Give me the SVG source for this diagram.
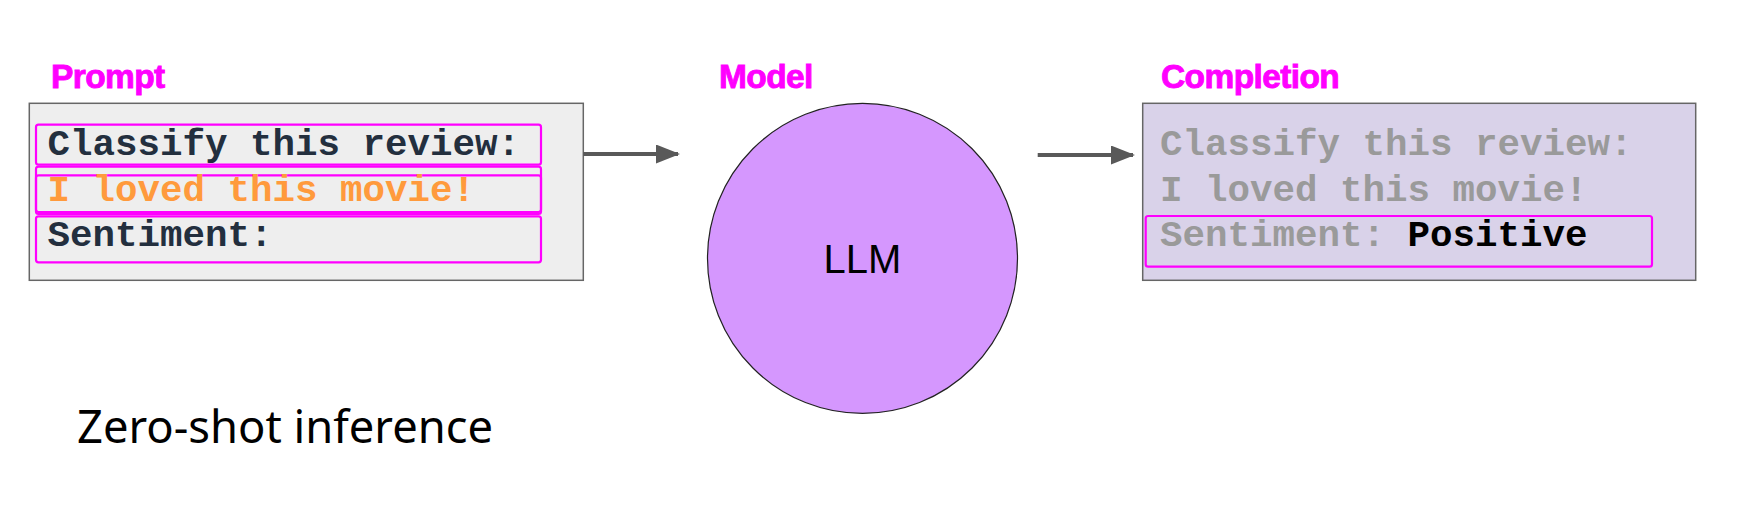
<svg xmlns="http://www.w3.org/2000/svg" width="1745" height="526" viewBox="0 0 1745 526">
<defs>
<style>
.title{font-family:"Liberation Sans",Arial,sans-serif;font-weight:bold;font-size:33.5px;fill:#FF00FF;stroke:#FF00FF;stroke-width:0.9;letter-spacing:-0.6px}
.mono{font-family:"Liberation Mono","Courier New",monospace;font-weight:bold;font-size:37.5px}
.dark{fill:#232F3E}
.orange{fill:#FF9A3C}
.gray{fill:#9A9A9A}
.hl{fill:none;stroke:#FF00FF;stroke-width:2.2}
.box{stroke:#666666;stroke-width:1.5}
.conn{stroke:#595959;stroke-width:4;fill:none}
</style>
<marker id="arr" markerWidth="24" markerHeight="19" refX="22" refY="9.5" orient="auto" markerUnits="userSpaceOnUse">
<path d="M0,0 L24,9.5 L0,19 Z" fill="#595959"/>
</marker>
</defs>
<rect width="1745" height="526" fill="#FFFFFF"/>

<g id="prompt">
<text class="title" x="51" y="88.3">Prompt</text>
<rect class="box" x="29.3" y="103.3" width="554" height="177" fill="#EEEEEE"/>
<rect class="hl" x="36" y="124.7" width="505" height="40" rx="2.5"/>
<rect class="hl" x="36" y="166.7" width="505" height="47.3" rx="2.5"/>
<rect class="hl" x="36" y="175.3" width="505" height="36.7" rx="2.5"/>
<rect class="hl" x="36" y="216.3" width="505" height="46" rx="2.5"/>
<text class="mono dark" x="47.5" y="154.5">Classify this review:</text>
<text class="mono orange" x="47.5" y="200.5">I loved this movie!</text>
<text class="mono dark" x="47.5" y="245.5">Sentiment:</text>
</g>

<g id="model">
<text class="title" x="719" y="88.3">Model</text>
<circle cx="862.5" cy="258.4" r="155" fill="#D597FE" stroke="#222222" stroke-width="1.2"/>
<text x="862.5" y="273" text-anchor="middle" font-family="'Liberation Sans',Arial,sans-serif" font-size="40" fill="#000000">LLM</text>
</g>

<g id="completion">
<text class="title" x="1161" y="88.3">Completion</text>
<rect class="box" x="1142.7" y="103.3" width="553" height="177" fill="#D9D2E9"/>
<rect class="hl" x="1145.7" y="216" width="506.3" height="50.7" rx="2.5"/>
<text class="mono gray" x="1160" y="154.5">Classify this review:</text>
<text class="mono gray" x="1160" y="200.5">I loved this movie!</text>
<text class="mono" x="1160" y="245.5"><tspan class="gray">Sentiment: </tspan><tspan fill="#000000">Positive</tspan></text>
</g>

<g id="connectors">
<line class="conn" x1="583.3" y1="154" x2="678" y2="154" marker-end="url(#arr)"/>
<line class="conn" x1="1037.7" y1="155" x2="1133" y2="155" marker-end="url(#arr)"/>
</g>

<g id="caption">
<text x="77" y="442.7" font-family="'Noto Sans','Open Sans',sans-serif" font-size="46" fill="#000000" textLength="416" lengthAdjust="spacingAndGlyphs">Zero-shot inference</text>
</g>
</svg>
